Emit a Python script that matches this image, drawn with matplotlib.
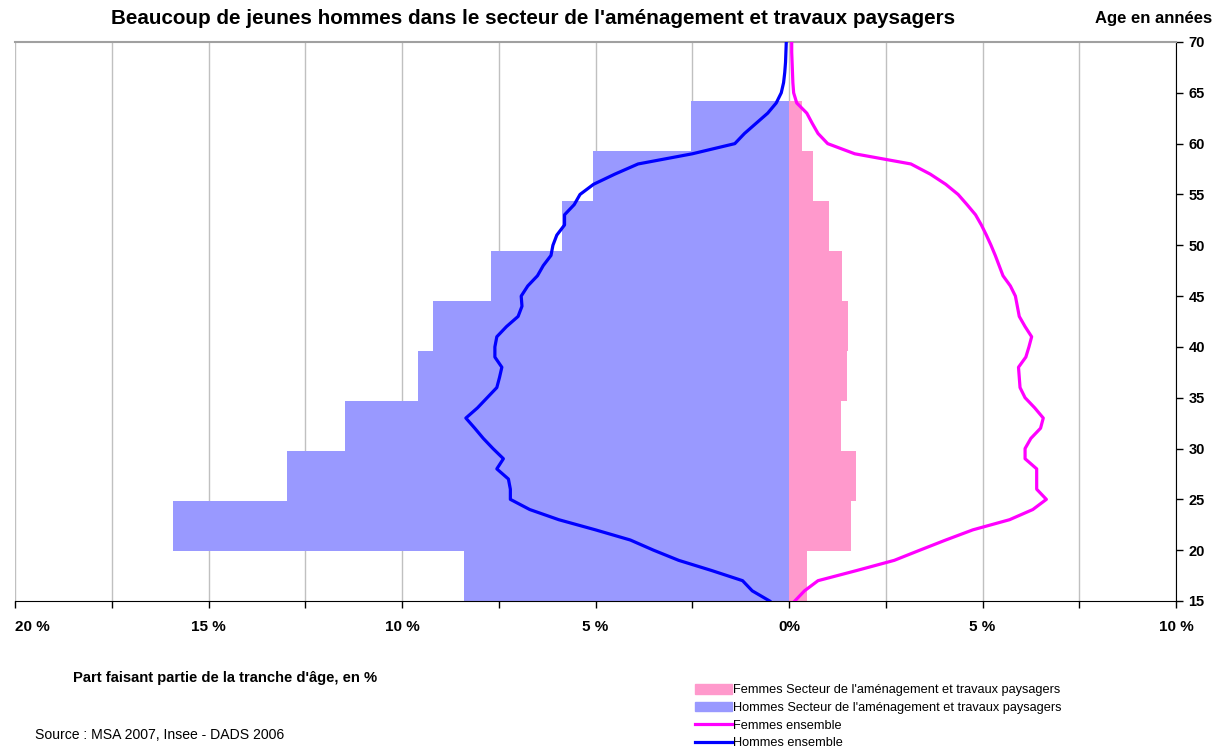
import numpy as np
import matplotlib
matplotlib.use('Agg')
import matplotlib.pyplot as plt
from matplotlib.patches import Patch
from matplotlib.lines import Line2D

plt.rcParams['font.family'] = ['Liberation Sans', 'DejaVu Sans']

# age bands (5 years) - bars
bands = ['15-19', '20-24', '25-29', '30-34', '35-39', '40-44', '45-49', '50-54', '55-59', '60-64']
hommes_secteur = [8.39, 15.91, 12.97, 11.47, 9.59, 9.20, 7.71, 5.87, 5.07, 2.54]
femmes_secteur = [0.46, 1.60, 1.73, 1.34, 1.49, 1.53, 1.37, 1.04, 0.63, 0.33]

# yearly ages - lines
ages = list(range(15, 71))
hommes_ens = [0.5, 0.95, 1.2, 2.0, 2.85, 3.5, 4.1, 5.0, 5.95, 6.7,
              7.2, 7.2, 7.25, 7.55, 7.38, 7.65, 7.9, 8.12, 8.35, 8.05,
              7.8, 7.55, 7.48, 7.42, 7.6, 7.6, 7.55, 7.3, 7.0, 6.9,
              6.92, 6.75, 6.5, 6.35, 6.15, 6.1, 6.0, 5.8, 5.8, 5.55,
              5.4, 5.05, 4.5, 3.9, 2.5, 1.4, 1.15, 0.85, 0.55, 0.33,
              0.2, 0.14, 0.11, 0.09, 0.08, 0.07]
femmes_ens = [0.15, 0.4, 0.75, 1.75, 2.72, 3.38, 4.05, 4.75, 5.7, 6.3,
              6.65, 6.4, 6.4, 6.4, 6.1, 6.1, 6.25, 6.5, 6.57, 6.35,
              6.1, 5.97, 5.95, 5.93, 6.12, 6.2, 6.27, 6.1, 5.95, 5.9,
              5.85, 5.72, 5.53, 5.43, 5.33, 5.22, 5.1, 4.97, 4.82, 4.6,
              4.37, 4.05, 3.65, 3.15, 1.7, 1.0, 0.75, 0.6, 0.46, 0.2,
              0.12, 0.1, 0.09, 0.08, 0.07, 0.07]

W, H = 1227, 749
fig = plt.figure(figsize=(W/100., H/100.), dpi=100)
ax = fig.add_axes([15./W, 1-601./H, (1176.-15.)/W, (601.-42.)/H])

band_h = 4.92
y0 = 15 + np.arange(len(bands))*band_h
ax.barh(y0, -np.array(hommes_secteur), height=band_h, align='edge',
        color='#9999FF', linewidth=0, zorder=2)
ax.barh(y0, femmes_secteur, height=band_h, align='edge',
        color='#FF99CC', linewidth=0, zorder=2)

ax.plot(femmes_ens, ages, color='#FF00FF', lw=2.3, zorder=3)
ax.plot(-np.array(hommes_ens), ages, color='#0000FF', lw=2.3, zorder=4)

ax.set_xlim(-20, 10)
ax.set_ylim(15, 70)

xt = np.arange(-20, 10.01, 2.5)
ax.set_xticks(xt)
def xlab(v):
    if v % 5 != 0:
        return ''
    if v == 0:
        return '0%'
    return '%d %%' % abs(v)
ax.set_xticklabels([xlab(v) for v in xt], fontsize=11, fontweight='bold')
ax.tick_params(axis='x', direction='out', length=5, width=1, pad=9)
for lab in ax.get_xticklabels()[:1]:
    lab.set_horizontalalignment('left')

ax.yaxis.tick_right()
ax.set_yticks(range(15, 71, 5))
ax.set_yticklabels([str(v) for v in range(15, 71, 5)], fontsize=10.5, fontweight='bold')
ax.tick_params(axis='y', direction='out', length=5, width=1, pad=4)

ax.grid(axis='x', color='#c0c0c0', lw=1, zorder=0)
ax.set_axisbelow(True)
ax.spines['left'].set_visible(False)
ax.spines['top'].set_color('#a0a0a0')
ax.spines['top'].set_linewidth(1.5)
ax.spines['right'].set_color('black')
ax.spines['bottom'].set_color('black')

fig.text(533./W, 1-19./H, "Beaucoup de jeunes hommes dans le secteur de l'aménagement et travaux paysagers",
         ha='center', va='center', fontsize=14.9, fontweight='bold')
fig.text(1154./W, 1-19./H, 'Age en années', ha='center', va='center',
         fontsize=12, fontweight='bold')
fig.text(73./W, 1-678./H, "Part faisant partie de la tranche d'âge, en %",
         ha='left', va='center', fontsize=10.6, fontweight='bold')
fig.text(35./W, 1-735./H, 'Source : MSA 2007, Insee - DADS 2006',
         ha='left', va='center', fontsize=10.1)

handles = [Patch(color='#FF99CC'), Patch(color='#9999FF'),
           Line2D([], [], color='#FF00FF', lw=2.3),
           Line2D([], [], color='#0000FF', lw=2.3)]
labels = ["Femmes Secteur de l'aménagement et travaux paysagers",
          "Hommes Secteur de l'aménagement et travaux paysagers",
          'Femmes ensemble', 'Hommes ensemble']
fig.legend(handles, labels, loc='upper left', bbox_to_anchor=(695./W, 1-684./H),
           frameon=False, fontsize=9.2, handlelength=2.9, handleheight=0.8,
           handletextpad=0.1, labelspacing=0.42, borderaxespad=0, borderpad=0)

fig.savefig('out.png', dpi=100)
